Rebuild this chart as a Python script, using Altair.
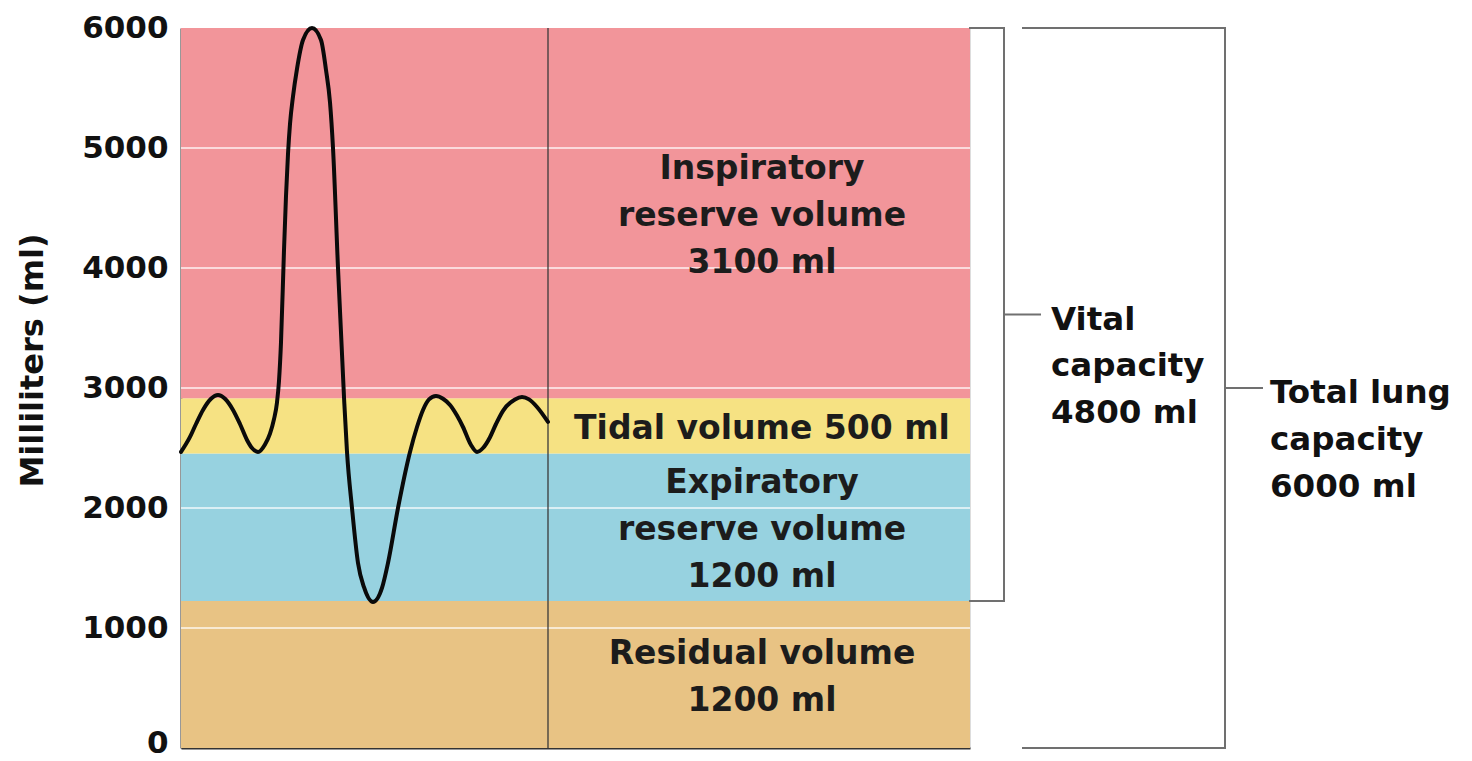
import altair as alt
import pandas as pd

# ---- data ----
T_START, T_END = 0, 789          # time axis extent (arbitrary units)
MARKER_T = 367                   # thin vertical divider

band_labels = [
    "Residual volume\n1200 ml",
    "Expiratory\nreserve volume\n1200 ml",
    "Tidal volume 500 ml",
    "Inspiratory\nreserve volume\n3100 ml",
]
band_bottom = [0, 1225, 2455, 2915]
band_top = [1225, 2455, 2915, 6000]
band_colors = ["#E8C384", "#97D2E0", "#F6E283", "#F2959A"]
BAND_LABEL_T = 581

curve_t = [0, 9, 15, 22, 30, 37, 44, 52, 59, 66, 71, 77, 84, 89, 93, 96, 98, 100,
           103, 105, 107, 109, 112, 116, 122, 131, 140, 145, 149, 152, 157, 163, 166,
           171, 177, 183, 192, 201, 207, 217, 229, 236, 242, 248, 255, 262, 269, 276,
           282, 290, 296, 302, 309, 315, 322, 334, 341, 348, 356, 367]
curve_ml = [2467, 2592, 2700, 2817, 2910, 2942, 2910, 2817, 2700, 2567, 2500, 2467,
            2530, 2620, 2740, 2880, 3060, 3380, 4150, 4600, 4950, 5200, 5430, 5660,
            5900, 6000, 5900, 5650, 5380, 5000, 4000, 2925, 2467, 2000, 1542, 1340,
            1217, 1334, 1542, 2000, 2467, 2675, 2817, 2905, 2933, 2910, 2858, 2770,
            2675, 2525, 2467, 2500, 2590, 2700, 2810, 2905, 2925, 2905, 2842, 2717]

y_ticks = [0, 1000, 2000, 3000, 4000, 5000, 6000]
grid_values = [1000, 2000, 3000, 4000, 5000]

bracket_labels = ["Vital\ncapacity\n4800 ml", "Total lung\ncapacity\n6000 ml"]
bracket_bottom = [1225, 0]
bracket_top = [6000, 6000]
bracket_left = [789, 842]
bracket_right = [823, 1044]
bracket_tick_end = [859, 1081]
bracket_label_t = [870, 1089]

LINE_ML = 390          # text line spacing expressed in ml
FONT = "DejaVu Sans"

# ---- tables ----
bands = pd.DataFrame({
    "label": band_labels, "bottom": band_bottom, "top": band_top,
    "t0": T_START, "t1": T_END,
})

band_lines = []
for lab, b, t in zip(band_labels, band_bottom, band_top):
    parts = lab.split("\n")
    mid = (b + t) / 2
    n = len(parts)
    for i, p in enumerate(parts):
        band_lines.append(dict(text=p, t=BAND_LABEL_T,
                               ml=mid + ((n - 1) / 2 - i) * LINE_ML))
band_lines = pd.DataFrame(band_lines)

curve = pd.DataFrame({"t": curve_t, "ml": curve_ml})
grid = pd.DataFrame({"ml": grid_values, "t0": T_START, "t1": T_END})
marker = pd.DataFrame({"t": [MARKER_T], "y0": [0], "y1": [6000]})

segs = []
blines = []
for i in range(len(bracket_labels)):
    l, r, b, tp, te = (bracket_left[i], bracket_right[i], bracket_bottom[i],
                       bracket_top[i], bracket_tick_end[i])
    mid = (b + tp) / 2
    segs += [
        dict(x=l, x2=r, y=tp, y2=tp),
        dict(x=l, x2=r, y=b, y2=b),
        dict(x=r, x2=r, y=b, y2=tp),
        dict(x=r, x2=te, y=mid, y2=mid),
    ]
    for j, p in enumerate(bracket_labels[i].split("\n")):
        blines.append(dict(text=p, t=bracket_label_t[i], ml=mid - j * LINE_ML))
segs = pd.DataFrame(segs)
blines = pd.DataFrame(blines)

xs = alt.Scale(domain=[T_START, T_END], nice=False, zero=False)
ys = alt.Scale(domain=[0, 6000], nice=False)

xaxis = alt.Axis(labels=False, ticks=False, title=None, grid=False,
                 domainColor="#333333", domainWidth=2)
yaxis = alt.Axis(values=y_ticks, format="d", grid=False, ticks=False, labelFont=FONT,
                 labelFontSize=31, labelFontWeight="bold", labelColor="#111111",
                 labelPadding=13, domainColor="#333333", domainWidth=2,
                 labelOffset={"condition": {"test": "datum.value === 0", "value": -5},
                              "value": 0},
                 title="Milliliters (ml)", titleFont=FONT, titleFontSize=32,
                 titleFontWeight="bold", titleColor="#111111", titleX=-149,
                 titleY=332, titleAlign="center", titleBaseline="middle")

band_layer = alt.Chart(bands).mark_rect().encode(
    x=alt.X("t0:Q", scale=xs, axis=xaxis),
    x2="t1:Q",
    y=alt.Y("bottom:Q", scale=ys, axis=yaxis),
    y2="top:Q",
    color=alt.Color("label:N", scale=alt.Scale(domain=band_labels, range=band_colors),
                    legend=None),
)

grid_layer = alt.Chart(grid).mark_rule(color="white", strokeWidth=2, opacity=0.65).encode(
    x=alt.X("t0:Q", scale=xs), x2="t1:Q", y=alt.Y("ml:Q", scale=ys),
)

marker_layer = alt.Chart(marker).mark_rule(color="#3a3a3a", strokeWidth=1.3).encode(
    x=alt.X("t:Q", scale=xs), y=alt.Y("y0:Q", scale=ys), y2="y1:Q",
)

curve_layer = alt.Chart(curve).mark_line(
    interpolate="monotone", color="#0a0a0a", strokeWidth=4, strokeCap="round"
).encode(x=alt.X("t:Q", scale=xs), y=alt.Y("ml:Q", scale=ys))

band_text = alt.Chart(band_lines).mark_text(
    font=FONT, fontSize=33, fontWeight="bold", color="#1c1c1c", align="center",
    baseline="middle", dy=3,
).encode(x=alt.X("t:Q", scale=xs), y=alt.Y("ml:Q", scale=ys), text="text:N")

bracket_layer = alt.Chart(segs).mark_rule(color="#707070", strokeWidth=2,
                                          strokeCap="square").encode(
    x=alt.X("x:Q", scale=xs), x2="x2:Q", y=alt.Y("y:Q", scale=ys), y2="y2:Q",
)

bracket_text = alt.Chart(blines).mark_text(
    font=FONT, fontSize=32.5, fontWeight="bold", color="#111111", align="left",
    baseline="middle", dy=5,
).encode(x=alt.X("t:Q", scale=xs), y=alt.Y("ml:Q", scale=ys), text="text:N")

chart = alt.layer(
    band_layer, grid_layer, marker_layer, curve_layer, band_text,
    bracket_layer, bracket_text,
).properties(
    width=789, height=720,
    padding={"left": 173, "top": 20, "right": 494, "bottom": 13},
    autosize=alt.AutoSizeParams(type="none"),
).configure_view(stroke=None).configure(background="white")

chart.save("out.html", embed_options={"renderer": "svg", "actions": False})
